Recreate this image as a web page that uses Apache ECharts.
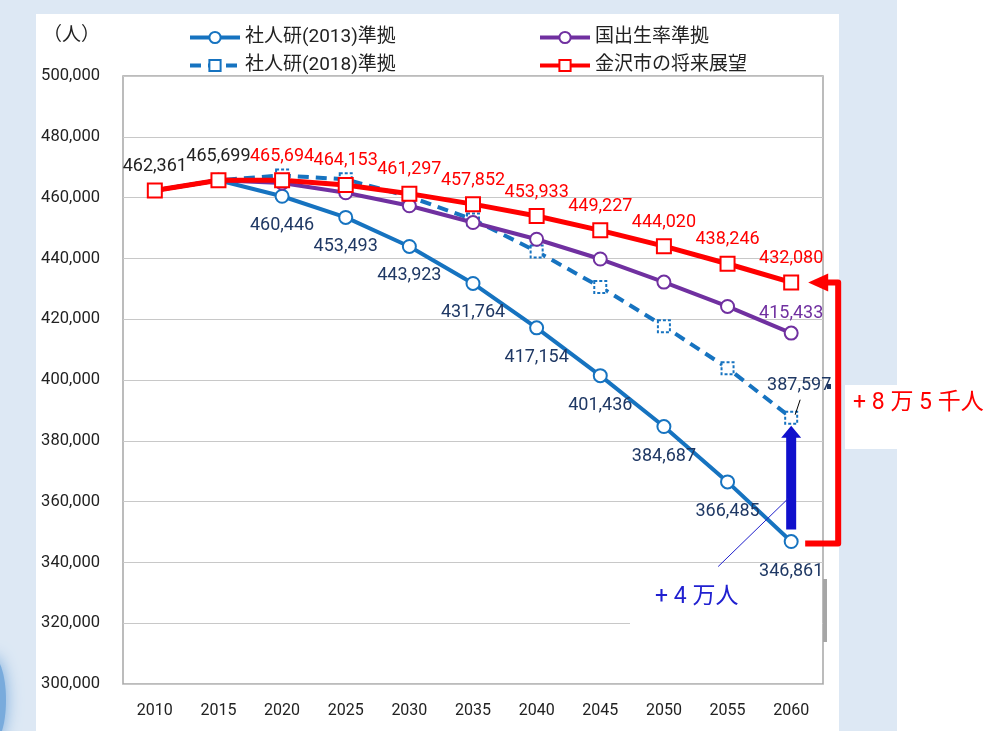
<!DOCTYPE html>
<html>
<head>
<meta charset="utf-8">
<script src="https://cdn.jsdelivr.net/npm/echarts@6/dist/echarts.min.js"></script>
<style>
html, body { margin: 0; padding: 0; background: #dde8f4; }
#chart { width: 1001px; height: 731px; }
</style>
</head>
<body>
<div id="chart"></div>
<script>
// 年次
const years = ['2010', '2015', '2020', '2025', '2030', '2035', '2040', '2045', '2050', '2055', '2060'];
// 社人研(2013)準拠
const ipss2013 = [462361, 465699, 460446, 453493, 443923, 431764, 417154, 401436, 384687, 366485, 346861];
// 社人研(2018)準拠 (2060以外は図から読み取り)
const ipss2018 = [462361, 465699, 467300, 466000, 460300, 452800, 442300, 430600, 417700, 403900, 387597];
// 国出生率準拠 (2060以外は図から読み取り)
const natBirth = [462361, 465699, 464800, 461600, 457300, 451800, 446300, 439800, 432200, 424200, 415433];
// 金沢市の将来展望
const outlook = [462361, 465699, 465694, 464153, 461297, 457852, 453933, 449227, 444020, 438246, 432080];

const FONT = "Roboto, 'Noto Sans CJK JP', sans-serif";
const BLUE = '#1673c0', PURPLE = '#7030a0', RED = '#ff0000', NAVY = '#1f3864';
const fmt = v => Number(v).toLocaleString('en-US');
const last = years.length - 1;

const chart = echarts.init(document.getElementById('chart'));

const legendBase = {
    orient: 'vertical', top: 28, itemGap: 9, padding: 0,
    itemWidth: 50, itemHeight: 14,
    lineStyle: { width: 4 },
    textStyle: { fontSize: 19, color: '#222', fontFamily: FONT }
};

const option = {
    backgroundColor: '#dde8f4',
    animation: false,
    textStyle: { fontFamily: FONT },
    grid: {
        left: 123, right: 178, top: 76, bottom: 47,
        show: true, borderColor: '#a6a6a6', borderWidth: 1.5
    },
    legend: [
        Object.assign({ data: ['社人研(2013)準拠', '社人研(2018)準拠'], left: 188 }, legendBase),
        Object.assign({ data: ['国出生率準拠', '金沢市の将来展望'], left: 538 }, legendBase)
    ],
    xAxis: {
        type: 'category', data: years, boundaryGap: true,
        axisLine: { show: false }, axisTick: { show: false },
        axisLabel: { color: '#222', fontSize: 16, margin: 19, fontFamily: FONT }
    },
    yAxis: {
        type: 'value', min: 300000, max: 500000, interval: 20000,
        axisLine: { show: false }, axisTick: { show: false },
        axisLabel: { color: '#222', fontSize: 16.5, margin: 23, formatter: fmt, fontFamily: FONT },
        splitLine: { lineStyle: { color: '#c8c8c8', width: 1.2 } }
    },
    series: [{
        name: '社人研(2013)準拠', type: 'line', z: 3,
        data: ipss2013.map((v, i) => ({ value: v, label: { show: i >= 2 } })),
        symbol: 'emptyCircle', symbolSize: 13,
        itemStyle: { color: BLUE, borderWidth: 1.6 },
        lineStyle: { color: BLUE, width: 4 },
        label: { position: 'bottom', distance: 13, color: NAVY, fontSize: 18, fontFamily: FONT, formatter: p => fmt(p.value) }
    }, {
        name: '社人研(2018)準拠', type: 'line', z: 3,
        data: ipss2018.map((v, i) => ({ value: v, label: { show: i === last } })),
        symbol: 'emptyRect', symbolSize: 12,
        itemStyle: { color: BLUE, borderWidth: 1.4, borderType: [3, 2] },
        lineStyle: { color: BLUE, width: 4, type: [11, 7] },
        label: { position: 'top', offset: [8, -11], color: NAVY, fontSize: 18, fontFamily: FONT, formatter: p => fmt(p.value) }
    }, {
        name: '国出生率準拠', type: 'line', z: 4,
        data: natBirth.map((v, i) => ({ value: v, label: { show: i === last } })),
        symbol: 'emptyCircle', symbolSize: 13,
        itemStyle: { color: PURPLE, borderWidth: 1.6 },
        lineStyle: { color: PURPLE, width: 4 },
        label: { position: 'top', distance: 3, color: PURPLE, fontSize: 18, fontFamily: FONT, formatter: p => fmt(p.value) }
    }, {
        name: '金沢市の将来展望', type: 'line', z: 5,
        data: outlook.map((v, i) => ({ value: v, label: { color: i < 2 ? '#222' : RED } })),
        symbol: 'emptyRect', symbolSize: 14,
        itemStyle: { color: RED, borderWidth: 1.6 },
        lineStyle: { color: RED, width: 5 },
        label: { show: true, position: 'top', distance: 7, fontSize: 18, fontFamily: FONT, formatter: p => fmt(p.value) }
    }]
};

chart.setOption(option);

// 注記（矢印など）は2060年の点の画素位置から組み立てる
const pLow = chart.convertToPixel({ seriesIndex: 0 }, [last, ipss2013[last]]);
const pMid = chart.convertToPixel({ seriesIndex: 1 }, [last, ipss2018[last]]);
const pTop = chart.convertToPixel({ seriesIndex: 3 }, [last, outlook[last]]);
const x0 = pLow[0];
const gridRight = 1001 - 178;
const y320 = chart.convertToPixel({ yAxisIndex: 0 }, 320000);

const graphics = [
    // 白い台紙
    { type: 'rect', z: -10, shape: { x: 36, y: 14, width: 803, height: 731 }, style: { fill: '#fff' } },
    { type: 'rect', z: -10, shape: { x: 897, y: 0, width: 104, height: 731 }, style: { fill: '#fff' } },
    { type: 'rect', z: -10, shape: { x: 845, y: 385, width: 52, height: 64 }, style: { fill: '#fff' } },
    // 左下のぼかし
    { type: 'ellipse', z: -9, shape: { cx: -8, cy: 700, rx: 14, ry: 44 },
      style: { fill: '#79abdc', shadowBlur: 16, shadowColor: '#79abdc' } },
    // 単位
    { type: 'text', x: 43, y: 36, z: 10,
      style: { text: '（人）', fontSize: 19, fill: '#222', fontFamily: FONT, verticalAlign: 'middle' } },
    // +4万人 の白抜き
    { type: 'rect', z: 1, shape: { x: 630, y: y320 - 44, width: gridRight - 631, height: 72 }, style: { fill: '#fff' } },
    { type: 'rect', z: 1, shape: { x: gridRight, y: 579, width: 4, height: 63 }, style: { fill: '#a6a6a6' } },
    // 青矢印
    { type: 'polygon', z: 20, shape: { points: [
        [x0 - 5, pLow[1] - 12], [x0 + 5, pLow[1] - 12], [x0 + 5, pMid[1] + 20],
        [x0 + 10, pMid[1] + 20], [x0, pMid[1] + 8], [x0 - 10, pMid[1] + 20], [x0 - 5, pMid[1] + 20]
    ] }, style: { fill: '#1010cc' } },
    // +4万人 の引き出し線
    { type: 'line', z: 20, shape: { x1: x0 - 73, y1: pLow[1] + 25, x2: x0 - 3, y2: pLow[1] - 43 },
      style: { stroke: '#2020cc', lineWidth: 1 } },
    { type: 'text', z: 20, x: 655, y: 597,
      style: { text: '+ 4 万人', fontSize: 23, fill: '#2020d0', fontFamily: FONT, verticalAlign: 'middle' } },
    // 387,597 の引き出し線
    { type: 'line', z: 20, shape: { x1: x0 + 9, y1: pMid[1] - 18, x2: x0 + 4, y2: pMid[1] - 3 },
      style: { stroke: '#000', lineWidth: 1 } },
    { type: 'rect', z: 20, shape: { x: 827, y: 384, width: 4, height: 5 }, style: { fill: '#1f3864' } },
    // 赤い括弧矢印
    { type: 'polyline', z: 20, shape: { points: [
        [x0 + 14, pLow[1] + 2], [x0 + 47, pLow[1] + 2], [x0 + 47, pTop[1]], [x0 + 34, pTop[1]]
    ] }, style: { stroke: RED, lineWidth: 6, fill: null, lineJoin: 'round' } },
    { type: 'polygon', z: 20, shape: { points: [
        [x0 + 17, pTop[1]], [x0 + 37, pTop[1] - 9], [x0 + 37, pTop[1] + 9]
    ] }, style: { fill: RED } },
    { type: 'text', z: 20, x: 853, y: 403,
      style: { text: '+ 8 万 5 千人', fontSize: 23, fill: RED, fontFamily: FONT, verticalAlign: 'middle' } }
];

chart.setOption({ graphic: graphics });
</script>
</body>
</html>
